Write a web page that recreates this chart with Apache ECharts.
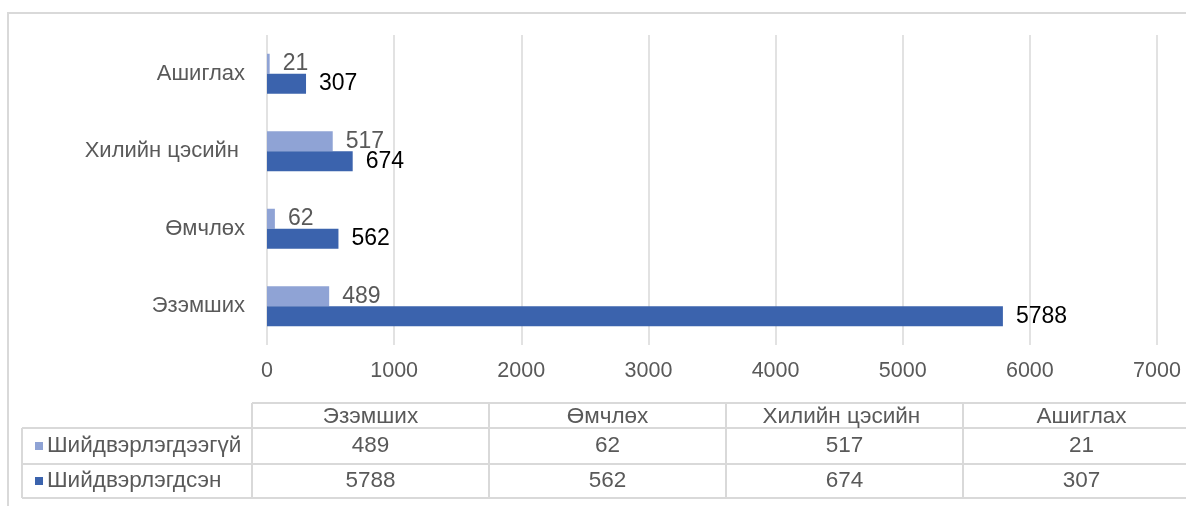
<!DOCTYPE html>
<html>
<head>
<meta charset="utf-8">
<script src="https://cdn.jsdelivr.net/npm/echarts@6/dist/echarts.min.js"></script>
<style>
html,body{margin:0;padding:0;background:#fff;}
#chart{width:1186px;height:506px;}
</style>
</head>
<body>
<div id="chart"></div>
<script>
const categories = ['Эзэмших', 'Өмчлөх', 'Хилийн цэсийн ', 'Ашиглах'];
const seriesNames = ['Шийдвэрлэгдээгүй', 'Шийдвэрлэгдсэн'];
const unresolved = [489, 62, 517, 21];
const resolved = [5788, 562, 674, 307];
const axisMin = 0, axisMax = 7000, axisStep = 1000;

const FONT = '"Liberation Sans", Arial, sans-serif';
const GRAY = '#595959';
const LINE = '#D9D9D9';
const colors = ['#8FA3D5', '#3B63AD'];

// table layout
const tLeft = 22, tLabelRight = 252, tColW = 237;
const tRows = [403, 428, 464, 498];
const TFONT = '22.5px ' + FONT;
const graphics = [];
// outer chart border
graphics.push({type:'rect', shape:{x:8, y:13, width:1200, height:520}, style:{fill:'none', stroke:LINE, lineWidth:2}, silent:true});
// header row
const tRight = tLabelRight + tColW * categories.length;
graphics.push({type:'line', shape:{x1:tLabelRight, y1:tRows[0], x2:tRight, y2:tRows[0]}, style:{stroke:LINE, lineWidth:2}});
for (let r = 1; r < tRows.length; r++) {
  graphics.push({type:'line', shape:{x1:tLeft, y1:tRows[r], x2:tRight, y2:tRows[r]}, style:{stroke:LINE, lineWidth:2}});
}
graphics.push({type:'line', shape:{x1:tLeft, y1:tRows[1], x2:tLeft, y2:tRows[3]}, style:{stroke:LINE, lineWidth:2}});
for (let c = 0; c <= categories.length; c++) {
  const x = tLabelRight + c * tColW;
  graphics.push({type:'line', shape:{x1:x, y1:tRows[0], x2:x, y2:tRows[3]}, style:{stroke:LINE, lineWidth:2}});
}
categories.forEach((cat, c) => {
  graphics.push({type:'text', x: tLabelRight + (c + 0.5) * tColW, y:(tRows[0] + tRows[1]) / 2 + 1,
    style:{text:cat, font:TFONT, fill:GRAY, textAlign:'center', textVerticalAlign:'middle'}});
});
const rowsData = [unresolved, resolved];
rowsData.forEach((vals, r) => {
  const cy = (tRows[r + 1] + tRows[r + 2]) / 2;
  graphics.push({type:'rect', shape:{x:35, y:cy - 4, width:8, height:8}, style:{fill:colors[r]}});
  graphics.push({type:'text', x:47, y:cy,
    style:{text:seriesNames[r], font:TFONT, fill:GRAY, textAlign:'left', textVerticalAlign:'middle'}});
  vals.forEach((v, c) => {
    graphics.push({type:'text', x: tLabelRight + (c + 0.5) * tColW, y:cy,
      style:{text:String(v), font:TFONT, fill:GRAY, textAlign:'center', textVerticalAlign:'middle'}});
  });
});

const chart = echarts.init(document.getElementById('chart'), null, {renderer:'canvas'});
chart.setOption({
  animation:false,
  backgroundColor:'#fff',
  textStyle:{fontFamily:FONT},
  grid:{left:267, right:29, top:35, bottom:161, containLabel:false},
  xAxis:{
    type:'value', min:axisMin, max:axisMax, interval:axisStep,
    axisLine:{show:false}, axisTick:{show:false},
    axisLabel:{color:GRAY, fontSize:21.5, fontFamily:FONT, margin:15, formatter:(v) => String(v)},
    splitLine:{show:true, lineStyle:{color:LINE, width:1.5}}
  },
  yAxis:{
    type:'category', data:categories,
    axisLine:{show:false}, axisTick:{show:false},
    axisLabel:{color:GRAY, fontSize:22, fontFamily:FONT, margin:22}
  },
  series:[
    {name:seriesNames[0], type:'bar', data:unresolved, barWidth:20, barGap:'0%',
      itemStyle:{color:colors[0]},
      label:{show:true, position:'right', distance:13, color:GRAY, fontSize:23, fontFamily:FONT}},
    {name:seriesNames[1], type:'bar', data:resolved, barWidth:20, barGap:'0%',
      itemStyle:{color:colors[1]},
      label:{show:true, position:'right', distance:13, color:'#000', fontSize:23, fontFamily:FONT}}
  ],
  graphic:graphics
});
</script>
</body>
</html>
